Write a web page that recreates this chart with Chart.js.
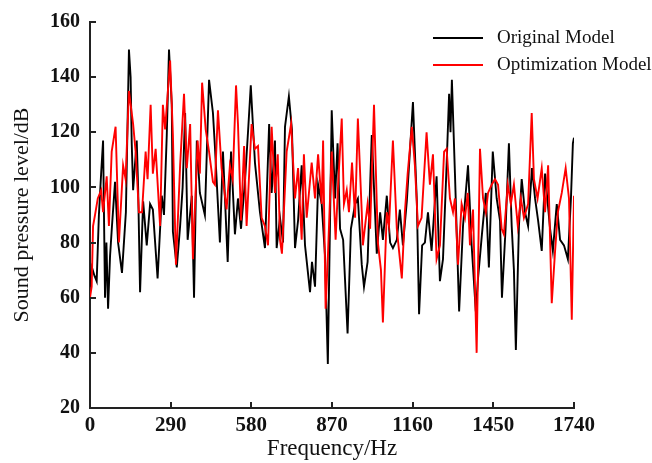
<!DOCTYPE html>
<html><head><meta charset="utf-8">
<script src="https://cdn.jsdelivr.net/npm/chart.js@4.4.1/dist/chart.umd.min.js"></script>
<style>html,body{margin:0;padding:0;background:#fff;overflow:hidden}#wrap{width:652px;height:463px;position:relative}</style>
</head><body><div id="wrap"><canvas id="c" width="652" height="463"></canvas></div>
<script>
const seriesNames = ['Original Model', 'Optimization Model'];
const xTickValues = [0, 290, 580, 870, 1160, 1450, 1740];
const yTickValues = [20, 40, 60, 80, 100, 120, 140, 160];

const origFreq = [
  0,7,16,24,32,40,47,54,59,65,
  72,79,90,101,115,129,140,146,150,155,
  168,173,180,191,204,216,226,243,258,266,
  276,284,294,298,312,324,333,342,351,366,
  374,384,395,413,428,442,449,467,478,495,
  507,521,532,543,557,568,578,593,611,629,
  644,653,665,671,683,694,701,715,726,737,
  748,761,773,791,798,809,820,833,845,855,
  869,881,890,899,910,926,938,953,963,977,
  985,998,1013,1031,1043,1053,1067,1079,1089,1103,
  1114,1125,1139,1150,1161,1175,1183,1194,1204,1215,
  1228,1246,1258,1269,1282,1291,1296,1301,1312,1327,
  1341,1359,1372,1387,1395,1409,1423,1434,1448,1462,
  1474,1481,1494,1506,1516,1524,1531,1542,1552,1564,
  1575,1589,1600,1611,1624,1636,1654,1664,1678,1690,
  1704,1718,1729,1736,1740
];
const origDb = [
  64,71,68,66,90,105,117,60,80,56,
  75,86,102,80,69,91,150,140,116,99,
  117,100,62,95,79,94,92,67,97,90,
  119,150,130,84,71,86,100,127,81,97,
  60,117,98,90,139,127,115,80,113,73,
  113,83,96,85,102,120,137,109,91,78,
  123,98,117,78,89,80,122,133,121,78,
  88,108,79,62,73,64,101,94,75,36,
  128,96,116,85,81,47,85,94,96,72,
  64,73,119,76,91,81,97,80,78,81,
  92,79,95,113,131,95,54,79,80,91,
  77,104,66,74,108,134,120,139,105,55,
  86,108,79,55,67,83,98,71,113,96,
  88,60,85,116,86,70,41,86,103,91,
  86,107,96,88,77,105,85,77,94,81,
  79,74,96,116,118
];
const optFreq = [
  0,6,11,18,28,40,47,60,68,78,
  92,104,119,128,140,155,164,176,187,200,
  207,218,226,236,252,262,270,288,298,309,
  324,338,348,360,370,387,395,403,416,428,
  442,449,460,473,491,503,513,525,532,543,
  554,563,581,593,604,617,629,640,653,665,
  675,683,690,707,723,737,748,761,769,779,
  797,809,820,833,838,847,856,869,883,892,
  905,913,923,931,942,953,963,977,981,998,
  1007,1021,1035,1046,1053,1067,1075,1089,1103,1111,
  1121,1132,1142,1157,1168,1179,1192,1210,1222,1233,
  1246,1258,1273,1282,1294,1305,1312,1323,1336,1348,
  1358,1366,1377,1390,1402,1413,1423,1431,1444,1456,
  1467,1480,1488,1502,1513,1524,1538,1549,1560,1575,
  1588,1596,1609,1624,1636,1647,1660,1672,1682,1696,
  1710,1722,1732,1740
];
const optDb = [
  60,64,86,90,96,99,91,104,86,113,
  122,80,108,103,135,123,113,91,91,113,
  103,130,105,114,86,130,121,146,119,72,
  108,134,107,123,74,117,105,138,121,113,
  102,101,128,107,92,108,103,137,123,88,
  115,86,123,114,115,89,86,79,122,98,
  112,81,76,113,123,96,107,81,112,89,
  109,96,112,94,117,56,77,113,81,101,
  125,94,99,91,109,89,125,91,79,94,
  85,130,80,70,51,91,86,117,85,77,
  67,91,105,122,108,86,89,120,101,112,
  74,79,113,114,96,91,96,72,94,89,
  98,79,92,40,114,96,91,98,101,103,
  101,85,83,101,94,101,86,96,89,94,
  127,103,96,107,91,108,58,77,91,98,
  107,96,52,97
];

const toPoints = (xs, ys) => xs.map((x, i) => ({ x: x, y: ys[i] }));
const SERIF = '"Liberation Serif", "Times New Roman", serif';

const innerTicks = {
  id: 'innerTicks',
  afterDraw(chart) {
    const ctx = chart.ctx;
    const xs = chart.scales.x, ys = chart.scales.y;
    const len = 6;
    ctx.save();
    ctx.strokeStyle = '#222';
    ctx.lineWidth = 2;
    ctx.beginPath();
    xs.ticks.forEach(t => {
      const px = Math.round(xs.getPixelForValue(t.value));
      ctx.moveTo(px, xs.top);
      ctx.lineTo(px, xs.top - len);
    });
    ys.ticks.forEach(t => {
      const py = Math.round(ys.getPixelForValue(t.value));
      ctx.moveTo(ys.right, py);
      ctx.lineTo(ys.right + len, py);
    });
    ctx.stroke();
    ctx.restore();
  }
};

const insideLegend = {
  id: 'insideLegend',
  afterDatasetsDraw(chart) {
    const ctx = chart.ctx;
    ctx.save();
    ctx.fillStyle = '#ffffff';
    ctx.fillRect(428, 24, 224, 50);
    chart.data.datasets.forEach((d, i) => {
      const y = 38 + i * 27;
      ctx.strokeStyle = d.borderColor;
      ctx.lineWidth = 1.8;
      ctx.beginPath();
      ctx.moveTo(433, y);
      ctx.lineTo(483, y);
      ctx.stroke();
      ctx.fillStyle = '#111';
      ctx.font = '19px ' + SERIF;
      ctx.textAlign = 'left';
      ctx.textBaseline = 'middle';
      ctx.fillText(d.label, 497, y);
    });
    ctx.restore();
  }
};

new Chart(document.getElementById('c'), {
  type: 'line',
  data: {
    datasets: [
      { label: seriesNames[0], data: toPoints(origFreq, origDb), borderColor: '#000000', borderWidth: 1.9, pointRadius: 0, tension: 0, fill: false, order: 1 },
      { label: seriesNames[1], data: toPoints(optFreq, optDb), borderColor: '#ff0000', borderWidth: 1.9, pointRadius: 0, tension: 0, fill: false, order: 0 }
    ]
  },
  options: {
    responsive: false,
    animation: false,
    devicePixelRatio: 1,
    layout: { padding: { left: 0, right: 78, top: 18, bottom: 0 } },
    plugins: { legend: { display: false }, tooltip: { enabled: false } },
    scales: {
      x: {
        type: 'linear', min: 0, max: 1740,
        afterBuildTicks: s => { s.ticks = xTickValues.map(v => ({ value: v })); },
        afterFit: s => { s.height = 55; },
        border: { display: true, color: '#222', width: 2 },
        grid: { display: false, drawOnChartArea: false, drawTicks: false, tickLength: 0 },
        ticks: { color: '#111', font: { family: SERIF, size: 21, weight: 'bold' }, padding: 5, maxRotation: 0, autoSkip: false, callback: v => String(v) },
        title: { display: true, text: 'Frequency/Hz', color: '#111', font: { family: SERIF, size: 23 }, padding: { top: 0, bottom: 0 } }
      },
      y: {
        type: 'linear', min: 20, max: 160,
        afterBuildTicks: s => { s.ticks = yTickValues.map(v => ({ value: v })); },
        afterFit: s => { s.width = 90; },
        border: { display: true, color: '#222', width: 2 },
        grid: { display: false, drawOnChartArea: false, drawTicks: false, tickLength: 0 },
        ticks: { color: '#111', font: { family: SERIF, size: 20, weight: 'bold' }, padding: 10, autoSkip: false, callback: v => String(v) },
        title: { display: true, text: 'Sound pressure level/dB', color: '#111', font: { family: SERIF, size: 22 }, padding: { top: 9, bottom: 0 } }
      }
    }
  },
  plugins: [innerTicks, insideLegend]
});
</script>
</body></html>
